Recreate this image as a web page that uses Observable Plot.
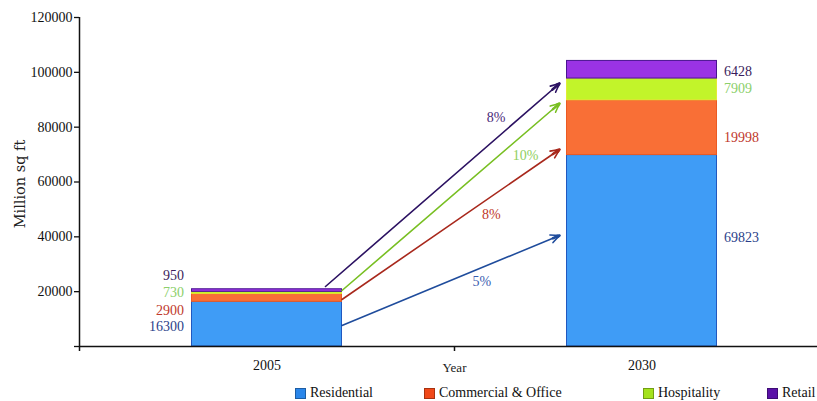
<!DOCTYPE html>
<html><head><meta charset="utf-8">
<script src="https://cdn.jsdelivr.net/npm/d3@7"></script>
<script src="https://cdn.jsdelivr.net/npm/@observablehq/plot@0.6"></script>
<style>
body{margin:0;background:#fff;overflow:hidden;width:817px;height:401px;font-family:"Liberation Serif",serif;}
#chart svg{overflow:visible;}
#legend{position:relative;height:21px;white-space:nowrap;font-size:14px;color:#111;}
.item{position:absolute;top:5px;height:16px;line-height:16px;display:flex;align-items:center;}
.sw{width:11px;height:11px;margin-right:4px;box-sizing:border-box;border:1px solid rgba(0,0,0,0.3);}
</style></head><body>
<div id="chart"></div>
<div id="legend"></div>
<script>
// ---- data ----
const years = ["2005", "2030"];
const series = ["Residential", "Commercial & Office", "Hospitality", "Retail"];
const values2005 = [16300, 2900, 730, 950];
const values2030 = [69823, 19998, 7909, 6428];
const growth = ["5%", "8%", "10%", "8%"];
const arrowFrom = [7660, 17140, 20430, 21880];
const arrowTo = [40490, 71850, 88630, 95930];
const yTicks = [0, 20000, 40000, 60000, 80000, 100000, 120000];

// ---- styles ----
const fills = ["#3f9cf6", "#f96f36", "#c2f42a", "#9a33e4"];
const strokes = ["#2058c0", "#ec5a22", "#e0ec34", "#4a1490"];
const labelColors = ["#2b3f8a", "#c0392b", "#8ccf6a", "#3a1d5c"];
const arrowColors = ["#1f4c9c", "#a8281c", "#78bf22", "#2c1262"];
const rateColors = ["#3a5db0", "#c0392b", "#8fcf60", "#4a2a7a"];
const legendColors = ["#2a86ea", "#f04818", "#a4e21c", "#5a12a8"];
const bw = 0.2;
const labelDy = [[2, 13, 0, -15], [-13, 10, -1, 2]];
const arrowX1 = [bw, bw, bw, 0.156];
const arrowX2 = 0.78;
const rateT = [0.643, 0.686, 0.844, 0.729];
const rateDy = [14, 18, 23, -21];
const headT = 0.97;

const rows = [];
[values2005, values2030].forEach((vals, yi) => {
  let base = 0;
  vals.forEach((v, si) => {
    rows.push({yi, si, value: v, y1: base, y2: base + v});
    base += v;
  });
});
const arrows = series.map((s, i) => ({i, from: arrowFrom[i], to: arrowTo[i], rate: growth[i]}));

const marks = [
  Plot.rect(rows, {
    x1: d => d.yi - bw, x2: d => d.yi + bw, y1: "y1", y2: "y2",
    fill: d => fills[d.si], stroke: d => strokes[d.si], strokeWidth: 1
  }),
  Plot.ruleY([0], {stroke: "#111", strokeWidth: 1.5}),
  Plot.ruleX([-0.5], {stroke: "#111", strokeWidth: 1.5}),
  Plot.axisY({ticks: yTicks, tickFormat: d => d ? String(d) : "", tickSize: 5, tickPadding: 2, fontSize: 14, label: null, strokeWidth: 1.3}),
  Plot.axisX({ticks: [0, 1], tickFormat: i => years[i], tickSize: 0, tickPadding: 14, fontSize: 14, label: null}),
  Plot.axisX({ticks: [-0.5, 0.5], tickFormat: () => "", tickSize: 5, label: null, strokeWidth: 1.5}),
  Plot.text(["Year"], {frameAnchor: "bottom", dy: 25, fontSize: 13, fill: "#222"}),
  Plot.text(["Million sq ft"], {frameAnchor: "left", textAnchor: "middle", lineAnchor: "middle", rotate: -90, dx: -59, dy: 2, fontSize: 14.5, fontFamily: "'DejaVu Serif', serif", fill: "#222"}),
  Plot.arrow(arrows, {
    x1: d => arrowX1[d.i], y1: "from", x2: () => arrowX2, y2: "to",
    stroke: d => arrowColors[d.i], strokeWidth: 1.6, headLength: 9, headAngle: 50
  }),
  Plot.arrow(arrows, {
    x1: d => arrowX1[d.i] + headT * (arrowX2 - arrowX1[d.i]),
    y1: d => d.from + headT * (d.to - d.from),
    x2: () => arrowX2, y2: "to",
    stroke: d => arrowColors[d.i], strokeWidth: 2.6, headLength: 9, headAngle: 34
  })
];
rows.forEach(r => {
  marks.push(Plot.text([r], {
    x: d => d.yi === 0 ? d.yi - bw : d.yi + bw,
    y: d => (d.y1 + d.y2) / 2,
    text: d => String(d.value),
    textAnchor: r.yi === 0 ? "end" : "start",
    dx: r.yi === 0 ? -8 : 7,
    dy: labelDy[r.yi][r.si],
    fill: labelColors[r.si], fontSize: 14
  }));
});
arrows.forEach(a => {
  marks.push(Plot.text([a], {
    x: d => arrowX1[d.i] + rateT[d.i] * (arrowX2 - arrowX1[d.i]),
    y: d => d.from + rateT[d.i] * (d.to - d.from),
    text: "rate", dy: rateDy[a.i], fill: rateColors[a.i], fontSize: 14
  }));
});

const chart = Plot.plot({
  width: 817, height: 380,
  marginTop: 17, marginBottom: 34, marginLeft: 79, marginRight: -12,
  x: {type: "linear", domain: [-0.5, 1.5], axis: null},
  y: {domain: [0, 120000], axis: null},
  color: {type: "identity"},
  style: {fontFamily: "'Liberation Serif', serif", fontSize: "14px", color: "#111", background: "white", overflow: "visible"},
  marks
});
document.getElementById("chart").appendChild(chart);

const lefts = [295, 424, 643, 767];
const legend = document.getElementById("legend");
series.forEach((s, i) => {
  const it = document.createElement("div");
  it.className = "item";
  it.style.left = lefts[i] + "px";
  const sw = document.createElement("span");
  sw.className = "sw";
  sw.style.background = legendColors[i];
  const t = document.createElement("span");
  t.textContent = s;
  it.appendChild(sw); it.appendChild(t);
  legend.appendChild(it);
});
</script>
</body></html>
